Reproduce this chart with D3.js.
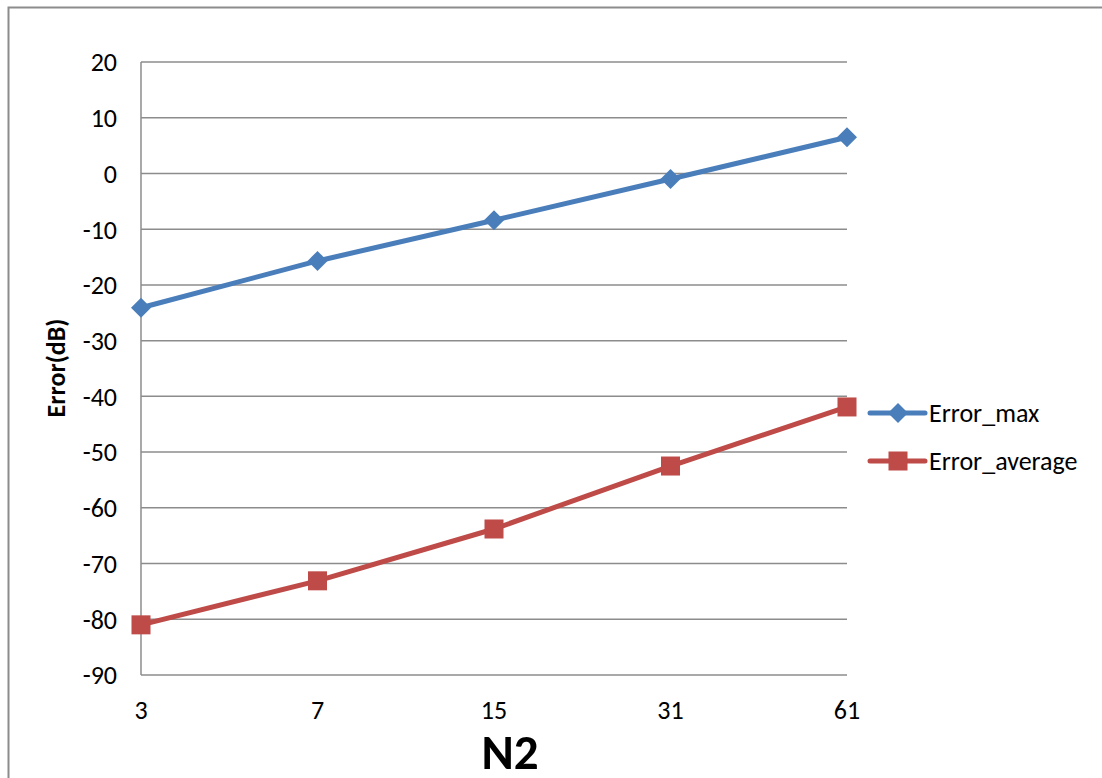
<!DOCTYPE html>
<style>
body { margin: 0; background: #fff; }
text { font-family: Carlito, Calibri, "Open Sans", sans-serif; fill: #000; }
.grid line { stroke: #8c8c8c; stroke-width: 1.5px; }
</style>
<svg width="1102" height="778"></svg>
<script src="https://cdn.jsdelivr.net/npm/d3@7/dist/d3.min.js"></script>
<script>

var categories = ["3", "7", "15", "31", "61"];
var errorMax = [-24.1, -15.7, -8.4, -1.0, 6.5];
var errorAverage = [-81.0, -73.1, -63.8, -52.5, -41.9];
var yTicks = [20, 10, 0, -10, -20, -30, -40, -50, -60, -70, -80, -90];

var series = [
  {name: "Error_max", values: errorMax, color: "#4a7ebb", shape: "diamond"},
  {name: "Error_average", values: errorAverage, color: "#be4b48", shape: "square"}
];

var svg = d3.select("svg");

var plotLeft = 141, plotRight = 847, plotTop = 62, plotBottom = 675;

var x = d3.scalePoint()
    .domain(categories)
    .range([plotLeft, plotRight]);

var y = d3.scaleLinear()
    .domain([-90, 20])
    .range([plotBottom, plotTop]);

// outer chart border
svg.append("path")
    .attr("d", "M8.5,800V7.5H1102")
    .attr("fill", "none")
    .attr("stroke", "#8c8c8c")
    .attr("stroke-width", 2);

// gridlines
svg.append("g")
    .attr("class", "grid")
  .selectAll("line")
  .data(yTicks)
  .enter().append("line")
    .attr("x1", plotLeft)
    .attr("x2", plotRight)
    .attr("y1", function(d) { return y(d); })
    .attr("y2", function(d) { return y(d); });

svg.append("line")
    .attr("x1", plotLeft).attr("x2", plotLeft)
    .attr("y1", plotTop).attr("y2", plotBottom)
    .attr("stroke", "#8c8c8c")
    .attr("stroke-width", 1.5);

// y axis labels
svg.append("g")
  .selectAll("text")
  .data(yTicks)
  .enter().append("text")
    .attr("x", 117)
    .attr("y", function(d) { return y(d); })
    .attr("dy", "0.36em")
    .attr("text-anchor", "end")
    .style("font-size", "26px")
    .text(function(d) { return d; });

// x axis labels
svg.append("g")
  .selectAll("text")
  .data(categories)
  .enter().append("text")
    .attr("x", function(d) { return x(d); })
    .attr("y", 719)
    .attr("text-anchor", "middle")
    .style("font-size", "26px")
    .text(function(d) { return d; });

svg.append("text")
    .attr("x", 510)
    .attr("y", 769)
    .attr("text-anchor", "middle")
    .style("font-size", "49px")
    .style("font-weight", "bold")
    .text("N2");

svg.append("text")
    .attr("transform", "translate(65,368) rotate(-90)")
    .attr("text-anchor", "middle")
    .style("font-size", "26px")
    .style("font-weight", "bold")
    .text("Error(dB)");

var line = d3.line()
    .x(function(d, i) { return x(categories[i]); })
    .y(function(d) { return y(d); });

function marker(g, shape, color) {
  if (shape === "diamond") {
    g.append("path")
        .attr("d", "M0,-10L10,0L0,10L-10,0Z")
        .attr("fill", color);
  } else {
    g.append("rect")
        .attr("x", -9.5).attr("y", -9.5)
        .attr("width", 19).attr("height", 19)
        .attr("fill", color);
  }
}

series.forEach(function(s) {
  svg.append("path")
      .datum(s.values)
      .attr("d", line)
      .attr("fill", "none")
      .attr("stroke", s.color)
      .attr("stroke-width", 5)
      .attr("stroke-linejoin", "round");

  s.values.forEach(function(v, i) {
    var g = svg.append("g")
        .attr("transform", "translate(" + x(categories[i]) + "," + y(v) + ")");
    marker(g, s.shape, s.color);
  });
});

// legend
var legend = svg.append("g")
  .selectAll("g")
  .data(series)
  .enter().append("g")
    .attr("transform", function(d, i) { return "translate(870," + (413 + i * 48) + ")"; });

legend.append("line")
    .attr("x1", 0).attr("x2", 55)
    .attr("stroke", function(d) { return d.color; })
    .attr("stroke-width", 5)
    .attr("stroke-linecap", "round");

legend.each(function(d) {
  var g = d3.select(this).append("g").attr("transform", "translate(28,0)");
  marker(g, d.shape, d.color);
});

legend.append("text")
    .attr("x", 59)
    .attr("dy", "0.36em")
    .style("font-size", "26px")
    .text(function(d) { return d.name; });

</script>
